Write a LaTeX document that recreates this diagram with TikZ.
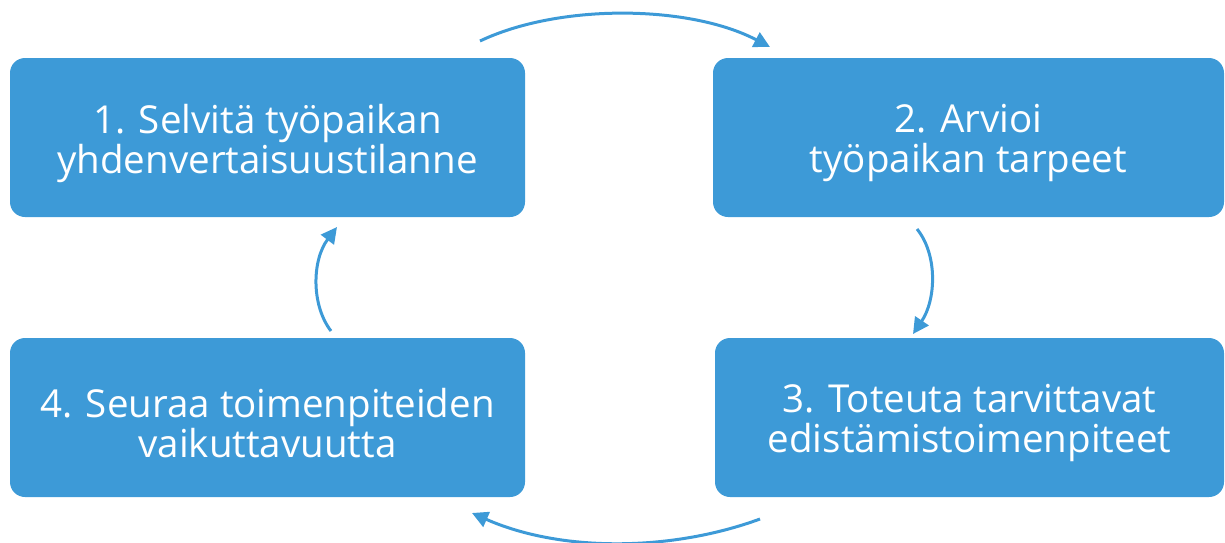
\documentclass[tikz,border=0pt]{standalone}
\usepackage{fontspec}
\setmainfont{Open Sans}
\usetikzlibrary{arrows.meta}
\definecolor{boxblue}{HTML}{3D9AD7}
\tikzset{
  stepbox/.style={fill=boxblue, draw=none, rounded corners=15pt, inner sep=0pt,
    minimum height=159pt},
  steptext/.style={text=white, align=center, inner sep=0pt,
    font=\fontsize{38.5}{40}\selectfont, yshift=-5.5pt},
  cyc/.style={draw=boxblue, line width=3pt, -{Triangle[length=16pt,width=16pt]}}
}
\begin{document}
\begin{tikzpicture}[x=1pt,y=-1pt]
\useasboundingbox (0,0) rectangle (1225,542);
\node[stepbox, minimum width=515pt] (b1) at (267.5,137.5) {};
\node[stepbox, minimum width=511pt] (b2) at (968.5,137.5) {};
\node[stepbox, minimum width=509pt] (b3) at (969.5,417.5) {};
\node[stepbox, minimum width=515pt] (b4) at (267.5,417.5) {};
\node[steptext] (t1) at (b1.center) {1. Selvitä työpaikan\\yhdenvertaisuustilanne};
\node[steptext] (t2) at (b2.center) {2. Arvioi\\työpaikan tarpeet};
\node[steptext] (t3) at (b3.center) {3. Toteuta tarvittavat\\edistämistoimenpiteet};
\node[steptext] (t4) at (b4.center) {4. Seuraa toimenpiteiden\\vaikuttavuutta};
\coordinate (s1) at (480,41);
\coordinate (e1) at (770,47);
\coordinate (s2) at (917,229);
\coordinate (e2) at (913,334);
\coordinate (s3) at (760,519);
\coordinate (e3) at (472,513);
\coordinate (s4) at (331,331);
\coordinate (e4) at (337,227);
\draw[cyc] (s1) .. controls (560,3) and (690,5) .. (e1);
\draw[cyc] (s2) .. controls (938,255) and (936,300) .. (e2);
\draw[cyc] (s3) .. controls (670,552) and (560,552) .. (e3);
\draw[cyc] (s4) .. controls (311,305) and (312,260) .. (e4);
\end{tikzpicture}
\end{document}
